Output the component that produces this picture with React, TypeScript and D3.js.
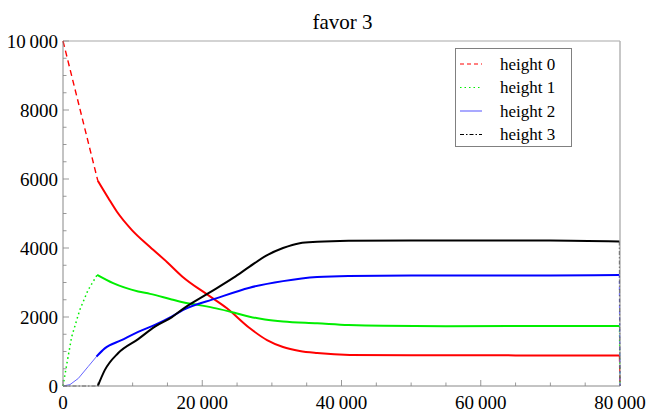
import React from "react";
import * as d3 from "d3";

type P = [number, number];

const seriesNames = ["height 0", "height 1", "height 2", "height 3"];

// height 0 (red)
const h0Early: P[] = [[0, 10000], [5000, 5950]];
const h0Late: P[] = [
  [5000, 5950], [6500, 5450], [7750, 5050], [9900, 4520], [12500, 4030], [15000, 3580],
  [17200, 3160], [20800, 2640], [23500, 2260], [26800, 1680], [29300, 1330], [31600, 1130],
  [34000, 1015], [36500, 955], [41200, 900], [50000, 890], [60000, 890], [70000, 885], [79900, 885],
];
// height 1 (green)
const h1Early: P[] = [[0, 0], [600, 700], [1250, 1430], [2400, 2200], [3600, 2780], [4900, 3220]];
const h1Late: P[] = [
  [4900, 3220], [7200, 2980], [10800, 2740], [12500, 2670], [15600, 2510], [17200, 2430],
  [20000, 2330], [22000, 2250], [24500, 2130], [26800, 2010], [29000, 1930], [31600, 1870],
  [36500, 1820], [41000, 1770], [46000, 1745], [55000, 1735], [65000, 1740], [79900, 1740],
];
// height 2 (blue)
const h2Early: P[] = [[0, 0], [1000, 40], [2200, 220], [3600, 560], [4800, 850]];
const h2Late: P[] = [
  [4800, 850], [6000, 1090], [8400, 1330], [10800, 1570], [13200, 1770], [15600, 2010],
  [17200, 2200], [22000, 2540], [26800, 2850], [31600, 3040], [36500, 3160], [41000, 3190],
  [50000, 3200], [60000, 3200], [70000, 3205], [79900, 3220],
];
// height 3 (black)
const h3Early: P[] = [[0, 0], [5000, 0]];
const h3Late: P[] = [
  [5000, 0], [6000, 460], [7900, 950], [10800, 1360], [13200, 1720], [15600, 1990],
  [17200, 2230], [20900, 2690], [24500, 3140], [26800, 3460], [29200, 3780], [31600, 4000],
  [34000, 4140], [36500, 4180], [41000, 4210], [50000, 4220], [60000, 4220], [70000, 4220], [79900, 4190],
];
const endPoint: P = [80000, 0];

const xMajor = [0, 20000, 40000, 60000, 80000];
const yMajor = [0, 2000, 4000, 6000, 8000, 10000];

const title = "favor 3";

const W = 647, H = 417;
const L = 63, R = 620, T = 41, B = 386;

const styles = [
  { color: "#ff0000", dash: "6,4", earlyW: 1.4, earlyColor: "#ff0000", legendDash: "4,3" },
  { color: "#00ee00", dash: "1.6,3", earlyW: 1.5, earlyColor: "#00ee00", legendDash: "1.5,3" },
  { color: "#0000ff", dash: "none", earlyW: 0.9, earlyColor: "#5555ff", legendDash: "none" },
  { color: "#000000", dash: "4,2,1.5,2", earlyW: 1.2, earlyColor: "#555555", legendDash: "4,2,1.5,2" },
];

const fmt = (d: number) => {
  if (d >= 10000) {
    const s = String(d);
    return s.slice(0, s.length - 3) + "\u2009" + s.slice(s.length - 3);
  }
  return String(d);
};

export default function App() {
  const x = d3.scaleLinear().domain([0, 80000]).range([L, R]);
  const y = d3.scaleLinear().domain([0, 10000]).range([B, T]);
  const line = d3.line<P>().x((d) => x(d[0])).y((d) => y(d[1]));
  const smooth = d3.line<P>().x((d) => x(d[0])).y((d) => y(d[1])).curve(d3.curveMonotoneX);

  const series = [
    { early: h0Early, late: h0Late },
    { early: h1Early, late: h1Late },
    { early: h2Early, late: h2Late },
    { early: h3Early, late: h3Late },
  ];

  const xMinor = d3.range(0, 80001, 5000);
  const yMinor = d3.range(0, 10001, 500);
  const font = "Liberation Serif, Tinos, DejaVu Serif, Noto Serif, serif";

  return (
    <svg width={W} height={H} style={{ position: "absolute", left: 0, top: 0, background: "#fff" }}>
      <rect x={0} y={0} width={W} height={H} fill="#fff" />
      <text x={(L + R) / 2 + 1} y={29} textAnchor="middle" style={{ fontFamily: font }} fontSize={21} fill="#000">{title}</text>

      {/* frame */}
      <line x1={L} x2={R} y1={T} y2={T} stroke="#c4c4c4" strokeWidth={1.5} />
      <line x1={R} x2={R} y1={T} y2={B} stroke="#b4b4b4" strokeWidth={1.5} />

      {/* ticks */}
      {xMinor.map((v) => {
        const major = xMajor.includes(v);
        return <line key={"xt" + v} x1={x(v)} x2={x(v)} y1={B} y2={B - (major ? 6 : 3.5)} stroke="#999" strokeWidth={1} />;
      })}
      {yMinor.map((v) => {
        const major = yMajor.includes(v);
        return <line key={"yt" + v} x1={L} x2={L + (major ? 6 : 3.5)} y1={y(v)} y2={y(v)} stroke="#999" strokeWidth={1} />;
      })}

      {/* series */}
      {series.map((s, i) => {
        const st = styles[i];
        const last = s.late[s.late.length - 1];
        return (
          <g key={"s" + i}>
            <path d={line(s.early) || ""} fill="none" stroke={st.earlyColor} strokeWidth={st.earlyW}
              strokeDasharray={st.dash} />
            <path d={smooth(s.late) || ""} fill="none" stroke={st.color} strokeWidth={2} strokeLinejoin="round" />
            <path d={line([last, endPoint]) || ""} fill="none" stroke={st.earlyColor} strokeWidth={1.2}
              strokeDasharray={st.dash === "none" ? "3,3" : st.dash} opacity={0.7} />
          </g>
        );
      })}

      {/* axes */}
      <line x1={L} x2={L} y1={T} y2={B} stroke="#888" strokeWidth={1} />
      <line x1={L} x2={R} y1={B} y2={B} stroke="#888" strokeWidth={1} />

      {xMajor.map((v) => (
        <text key={"xl" + v} x={x(v)} y={409} textAnchor="middle" style={{ fontFamily: font }} fontSize={19} fill="#000">{fmt(v)}</text>
      ))}
      {yMajor.map((v) => (
        <text key={"yl" + v} x={58} y={y(v) + 6.5} textAnchor="end" style={{ fontFamily: font }} fontSize={19} fill="#000">{fmt(v)}</text>
      ))}

      {/* legend */}
      <rect x={455.5} y={48.5} width={116} height={98} fill="#fff" stroke="#808080" strokeWidth={1} />
      {seriesNames.map((n, i) => {
        const cy = 64 + i * 23.5;
        const st = styles[i];
        return (
          <g key={"lg" + i}>
            <line x1={460} x2={482} y1={cy} y2={cy} stroke={i === 2 ? "#7070ff" : st.color} strokeWidth={1.2}
              strokeDasharray={st.legendDash} />
            <text x={500} y={cy + 5.5} style={{ fontFamily: font }} fontSize={17} fill="#000">{n}</text>
          </g>
        );
      })}
    </svg>
  );
}
